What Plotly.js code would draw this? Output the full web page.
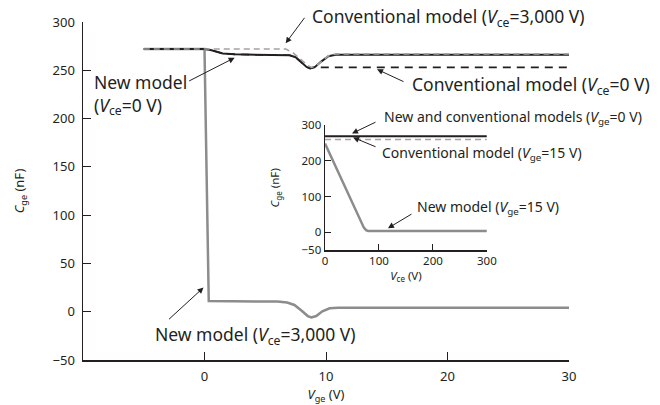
<!DOCTYPE html>
<html>
<head>
<meta charset="utf-8">
<script src="https://cdn.plot.ly/plotly-3.0.1.min.js"></script>
<style>html,body{margin:0;padding:0;background:#fff}</style>
</head>
<body>
<div id="chart" style="width:660px;height:405px"></div>
<script>
// ---- Main chart data: Cge (nF) vs Vge (V) ----
const vgeNew3000 = [-5, 0, 0.35, 3, 6, 6.8, 7.4, 8.0, 8.5, 8.8, 9.2, 9.7, 10.3, 11, 30];
const cgeNew3000 = [272, 272, 11, 11, 10.5, 9.5, 7, 1, -4.5, -6, -4.5, 0.5, 3.5, 4, 4];

const vgeNew0 = [-5, 0, 0.5, 1, 1.5, 2.5, 5, 7, 7.5, 8, 8.4, 8.7, 9.1, 9.6, 10.2, 10.8, 30];
const cgeNew0 = [272, 272, 271, 269, 267.5, 266.5, 266, 265.5, 263.5, 258, 253.5, 252, 253.5, 259, 264.5, 266, 266];

const vgeConv0 = [-5, 0, 0.5, 1, 1.5, 2.5, 5, 7, 7.5, 8, 8.4, 8.7, 9.0, 30];
const cgeConv0 = [272, 272, 271, 269, 267.5, 266.5, 266, 265.5, 263.5, 258, 253.5, 252, 253, 253];

const vgeConv3000 = [-5, 0, 6.7, 7.3, 7.9, 8.5, 8.8, 9.2, 9.7, 10.2, 10.8, 30];
const cgeConv3000 = [272, 272, 272, 268, 261, 255, 253, 254.5, 260, 265, 267, 267];

// ---- Inset data: Cge (nF) vs Vce (V) ----
const vceBoth0 = [0, 300];
const cgeBoth0 = [269, 269];
const vceConv15 = [0, 300];
const cgeConv15 = [260, 260];
const vceNew15 = [0, 28, 68, 72, 76, 80, 300];
const cgeNew15 = [249, 156, 25, 13, 6, 4, 4];

// ---- Tick labels ----
const mainXTicks = [0, 10, 20, 30];
const mainYTicks = [-50, 0, 50, 100, 150, 200, 250, 300];
const insetXTicks = [0, 100, 200, 300];
const insetYTicks = [-50, 0, 100, 200, 300];

const INK = '#231f20';
const GRAY = '#8c8c8c';
const LGRAY = '#a3a3a3';
const FONT = '"Noto Sans", "Open Sans", sans-serif';

const traces = [
  {x: vgeNew3000, y: cgeNew3000, mode: 'lines', line: {color: GRAY, width: 2.5}, xaxis: 'x', yaxis: 'y'},
  {x: vgeNew0, y: cgeNew0, mode: 'lines', line: {color: INK, width: 2}, xaxis: 'x', yaxis: 'y'},
  {x: vgeConv0, y: cgeConv0, mode: 'lines', line: {color: INK, width: 1.6, dash: '8px,6px'}, xaxis: 'x', yaxis: 'y'},
  {x: vgeConv3000, y: cgeConv3000, mode: 'lines', line: {color: LGRAY, width: 1.6, dash: '6px,4px'}, xaxis: 'x', yaxis: 'y'},
  {x: vceNew15, y: cgeNew15, mode: 'lines', line: {color: GRAY, width: 2.5}, xaxis: 'x2', yaxis: 'y2'},
  {x: vceConv15, y: cgeConv15, mode: 'lines', line: {color: LGRAY, width: 1.6, dash: '6px,4px'}, xaxis: 'x2', yaxis: 'y2'},
  {x: vceBoth0, y: cgeBoth0, mode: 'lines', line: {color: INK, width: 2}, xaxis: 'x2', yaxis: 'y2'}
];

function arrow(x, y, ax, ay, xr, yr) {
  return {x: x, y: y, xref: xr, yref: yr, ax: ax, ay: ay, axref: 'pixel', ayref: 'pixel',
    text: '', showarrow: true, arrowhead: 2, arrowsize: 1.2, arrowwidth: 1, arrowcolor: INK, standoff: 0};
}
function label(text, xp, yp, size) {
  return {x: xp, y: yp, xref: 'paper', yref: 'paper', text: text, showarrow: false,
    xanchor: 'left', yanchor: 'middle', align: 'left', font: {family: FONT, size: size, color: INK}};
}

const layout = {
  width: 660, height: 405,
  margin: {l: 83, r: 91, t: 22, b: 45},
  paper_bgcolor: '#fff', plot_bgcolor: 'rgba(0,0,0,0)',
  showlegend: false,
  font: {family: FONT, color: INK},
  xaxis: {
    range: [-10, 30], tickvals: mainXTicks, ticks: 'inside', ticklen: 8, tickwidth: 1, tickcolor: INK,
    showline: true, linecolor: INK, linewidth: 1.5, showgrid: false, zeroline: false,
    ticklabelstandoff: 4,
    tickfont: {size: 13, family: FONT, color: INK},
    title: {text: '<i>V</i><sub>ge</sub> (V)', font: {size: 13, family: FONT, color: INK}, standoff: 2}
  },
  yaxis: {
    range: [-50, 300], tickvals: mainYTicks, ticks: 'inside', ticklen: 8, tickwidth: 1, tickcolor: INK,
    showline: true, linecolor: INK, linewidth: 1.5, showgrid: false, zeroline: false,
    ticklabelstandoff: 4,
    tickfont: {size: 13, family: FONT, color: INK},
    title: {text: '<i>C</i><sub>ge</sub> (nF)', font: {size: 13, family: FONT, color: INK}, standoff: 25}
  },
  xaxis2: {
    domain: [0.498, 0.831], anchor: 'y2', range: [0, 300], tickvals: insetXTicks,
    ticks: 'inside', ticklen: 6, tickwidth: 1, tickcolor: INK,
    showline: true, linecolor: INK, linewidth: 1.5, showgrid: false, zeroline: false,
    tickfont: {size: 11.5, family: FONT, color: INK},
    title: {text: '<i>V</i><sub>ce</sub> (V)', font: {size: 11.5, family: FONT, color: INK}, standoff: 4}
  },
  yaxis2: {
    domain: [0.325, 0.6945], anchor: 'x2', range: [-50, 300], tickvals: insetYTicks,
    ticks: 'inside', ticklen: 6, tickwidth: 1, tickcolor: INK,
    showline: true, linecolor: INK, linewidth: 1.5, showgrid: false, zeroline: false,
    tickfont: {size: 11.5, family: FONT, color: INK},
    title: {text: '<i>C</i><sub>ge</sub> (nF)', font: {size: 11.5, family: FONT, color: INK}, standoff: 19}
  },
  annotations: [
    arrow(6.68, 278, 20, -27, 'x', 'y'),
    arrow(14.2, 251, 28, 13, 'x', 'y'),
    arrow(2.48, 263, -47, 24, 'x', 'y'),
    arrow(-0.08, 25, -36, 33, 'x', 'y'),
    arrow(50, 277, 25, -12, 'x2', 'y2'),
    arrow(52, 266, 24, 10, 'x2', 'y2'),
    arrow(116.7, 11.5, 25, -15, 'x2', 'y2'),
    label('Conventional model (<i>V</i><sub>ce</sub>=3,000 V)', 0.4676, 1.014, 17.5),
    label('Conventional model (<i>V</i><sub>ce</sub>=0 V)', 0.6735, 0.8128, 17.5),
    label('New model<br>(<i>V</i><sub>ce</sub>=0 V)', 0.0185, 0.785, 17.5),
    label('New model (<i>V</i><sub>ce</sub>=3,000 V)', 0.144, 0.0734, 17.5),
    label('New and conventional models (<i>V</i><sub>ge</sub>=0 V)', 0.616, 0.718, 14),
    label('Conventional model (<i>V</i><sub>ge</sub>=15 V)', 0.612, 0.611, 14),
    label('New model (<i>V</i><sub>ge</sub>=15 V)', 0.684, 0.452, 14)
  ]
};

Plotly.newPlot('chart', traces, layout, {displayModeBar: false, staticPlot: true});
</script>
</body>
</html>
